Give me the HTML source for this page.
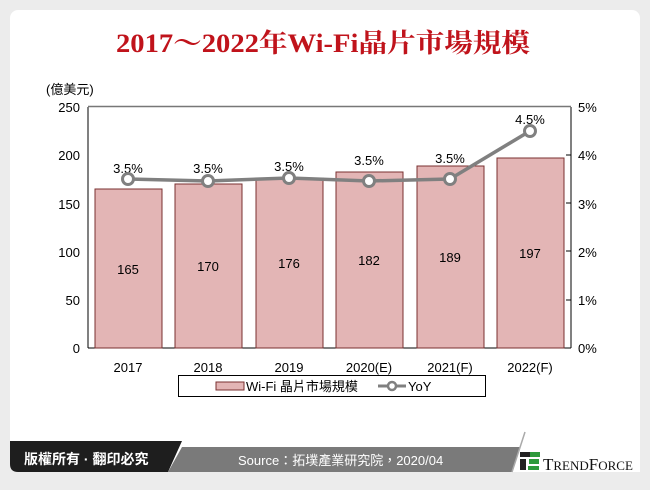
<!DOCTYPE html><html><head><meta charset="utf-8"><style>
body{margin:0;width:650px;height:485px;background:#ececec;overflow:hidden;font-family:"Liberation Sans","Noto Sans CJK TC",sans-serif}
</style></head><body>
<svg width="650" height="485" xmlns="http://www.w3.org/2000/svg" font-family="Liberation Sans, Noto Sans CJK TC, sans-serif">
<rect x="0" y="0" width="650" height="485" fill="#ececec"/>
<rect x="10" y="10" width="630" height="462" rx="8" fill="#fff"/>
<text x="116" y="52" textLength="414" lengthAdjust="spacingAndGlyphs" font-family="Liberation Serif, Noto Serif CJK SC, serif" font-weight="bold" font-size="26" fill="#c0131b">2017～2022年Wi-Fi晶片市場規模</text>
<text x="46" y="94" font-size="13" fill="#000">(億美元)</text>
<g stroke="#000" stroke-width="1">
<line x1="88" y1="107" x2="88" y2="348"/><line x1="571" y1="107" x2="571" y2="348"/>
<line x1="88" y1="348" x2="571" y2="348"/><line x1="88" y1="106.5" x2="571" y2="106.5" stroke="#777" stroke-width="1.5"/>
</g>
<g font-size="13" fill="#000" text-anchor="end">
<text x="80" y="112">250</text><text x="80" y="160">200</text><text x="80" y="209">150</text><text x="80" y="257">100</text><text x="80" y="305">50</text><text x="80" y="353">0</text>
</g>
<g font-size="13" fill="#000">
<text x="578" y="112">5%</text><text x="578" y="160">4%</text><text x="578" y="209">3%</text><text x="578" y="257">2%</text><text x="578" y="305">1%</text><text x="578" y="353">0%</text>
</g>
<g stroke="#000"><line x1="566" y1="155" x2="571" y2="155"/><line x1="566" y1="203" x2="571" y2="203"/><line x1="566" y1="251" x2="571" y2="251"/><line x1="566" y1="300" x2="571" y2="300"/></g>
<g fill="#e3b5b5" stroke="#7a3030" stroke-width="1">
<rect x="95" y="189" width="67" height="159"/>
<rect x="175" y="184" width="67" height="164"/>
<rect x="256" y="178" width="67" height="170"/>
<rect x="336" y="172" width="67" height="176"/>
<rect x="417" y="166" width="67" height="182"/>
<rect x="497" y="158" width="67" height="190"/>
</g>
<g font-size="13" fill="#000" text-anchor="middle">
<text x="128" y="274">165</text><text x="208" y="271">170</text><text x="289" y="268">176</text><text x="369" y="265">182</text><text x="450" y="262">189</text><text x="530" y="258">197</text>
<text x="128" y="372">2017</text><text x="208" y="372">2018</text><text x="289" y="372">2019</text><text x="369" y="372">2020(E)</text><text x="450" y="372">2021(F)</text><text x="530" y="372">2022(F)</text>
<text x="128" y="173">3.5%</text><text x="208" y="173">3.5%</text><text x="289" y="171">3.5%</text><text x="369" y="165">3.5%</text><text x="450" y="163">3.5%</text><text x="530" y="124">4.5%</text>
</g>
<polyline points="128,179 208,181 289,178 369,181 450,179 530,131" fill="none" stroke="#808080" stroke-width="3.5"/>
<g fill="#fff" stroke="#808080" stroke-width="3">
<circle cx="128" cy="179" r="5.5"/><circle cx="208" cy="181" r="5.5"/><circle cx="289" cy="178" r="5.5"/><circle cx="369" cy="181" r="5.5"/><circle cx="450" cy="179" r="5.5"/><circle cx="530" cy="131" r="5.5"/>
</g>
<rect x="178.5" y="375.5" width="307" height="21" fill="#fff" stroke="#000"/>
<rect x="216" y="382" width="28" height="8" fill="#e3b5b5" stroke="#7a3030"/>
<text x="246" y="391" font-size="13">Wi-Fi 晶片市場規模</text>
<line x1="378" y1="386" x2="406" y2="386" stroke="#808080" stroke-width="3"/>
<circle cx="392" cy="386" r="4" fill="#fff" stroke="#808080" stroke-width="2.5"/>
<text x="408" y="391" font-size="13">YoY</text>
<path d="M10,441 H182 L168,472 H18 Q10,472 10,464 Z" fill="#1e1e1e"/>
<path d="M182,447 H525 L515,472 H168 Z" fill="#7a7a7a"/>
<path d="M525,432 L520,447 L512,472 H640 V432 Z" fill="#fff"/>
<path d="M525,432 L512,472" stroke="#aaa" stroke-width="1.5"/>
<text x="24" y="464" font-size="14" font-weight="bold" fill="#fff">版權所有 · 翻印必究</text>
<text x="238" y="465" font-size="13" fill="#fff">Source：拓墣產業研究院，2020/04</text>
<rect x="520" y="452" width="18" height="5" fill="#222"/><rect x="520" y="459" width="6" height="11" fill="#222"/>
<rect x="530" y="452" width="10" height="5" fill="#2e9a3c"/><rect x="529" y="459" width="10" height="5" fill="#2e9a3c"/><rect x="528" y="466" width="11" height="4" fill="#2e9a3c"/>
<text x="543" y="470" font-family="Liberation Serif, serif" font-size="17" fill="#111">T<tspan font-size="13">REND</tspan>F<tspan font-size="13">ORCE</tspan></text>
</svg>
</body></html>
